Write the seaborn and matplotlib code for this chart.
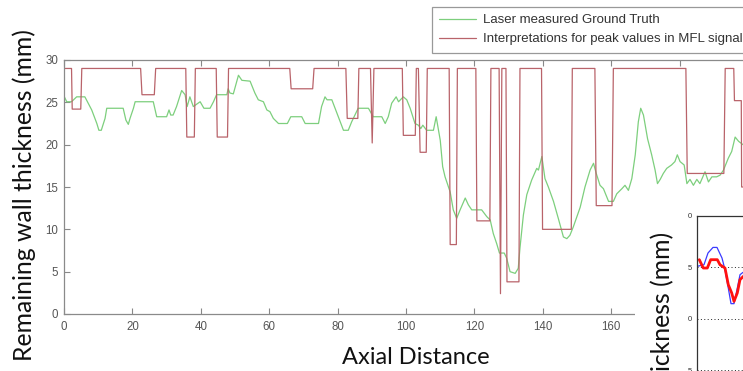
import matplotlib
matplotlib.use("Agg")
import matplotlib.pyplot as plt
import seaborn as sns
import pandas as pd
from matplotlib.patches import Rectangle

# ---------------- data ----------------
gt_x = [0.1, 0.8, 2.2, 3.7, 6.1, 8.1, 9.6, 10.2, 10.9, 12.0, 12.5, 17.3, 18.1, 18.8, 19.3, 20.3, 20.8,
        26.1, 27.1, 30.0, 30.7, 31.2, 31.9, 32.9, 34.4, 35.4, 36.0, 36.8, 37.8, 39.8, 40.9, 42.7, 43.7,
        44.6, 47.6, 48.0, 48.5, 49.5, 51.0, 52.0, 54.4, 55.8, 56.8, 58.3, 59.3, 60.2, 61.2, 62.7, 65.3,
        66.3, 69.5, 70.5, 74.4, 75.3, 76.3, 76.9, 78.3, 80.2, 81.7, 83.1, 84.1, 86.0, 89.0, 90.4, 92.9,
        93.9, 94.8, 95.8, 97.1, 97.8, 99.2, 100.2, 101.2, 102.6, 103.6, 104.3, 104.9, 106.0, 108.0, 108.8,
        109.5, 110.0, 110.7, 111.4, 112.4, 112.9, 113.8, 114.8, 115.8, 117.3, 118.2, 119.2, 122.1, 123.6,
        124.6, 125.5, 126.5, 127.3, 128.7, 129.4, 130.4, 131.9, 132.8, 133.3, 134.3, 135.3, 136.7, 138.2,
        138.7, 139.7, 140.6, 141.6, 143.1, 144.5, 146.0, 147.0, 147.9, 148.9, 150.9, 152.3, 153.8, 154.8,
        155.6, 156.7, 157.7, 159.2, 160.6, 161.6, 163.1, 164.0, 165.0, 166.0, 167.0, 167.9, 168.6, 169.4,
        170.6, 171.8, 172.8, 173.5, 174.3, 175.2, 176.2, 177.6, 178.6, 179.3, 180.1, 181.3, 182.1, 183.0,
        184.0, 185.0, 185.9, 187.4, 188.4, 189.4, 190.8, 191.8, 192.8, 194.2, 195.2, 196.2, 197.2, 198.5]
gt_y = [25.65, 25.07, 25.07, 25.65, 25.65, 24.1, 22.5, 21.7, 21.7, 23.1, 24.3, 24.3, 22.9, 22.4, 23.1, 24.3, 25.07,
        25.07, 23.3, 23.3, 24.1, 23.5, 23.5, 24.5, 26.4, 25.9, 24.5, 25.65, 24.5, 25.07, 24.3, 24.3, 25.07,
        25.9, 25.9, 26.6, 26.1, 26.0, 28.2, 27.6, 27.5, 26.1, 25.3, 25.07, 24.1, 23.9, 23.1, 22.5, 22.5,
        23.3, 23.3, 22.5, 22.5, 24.5, 25.65, 25.3, 25.3, 23.3, 21.7, 21.7, 22.7, 24.3, 24.3, 23.3, 23.3,
        22.5, 23.3, 24.9, 25.65, 25.07, 25.65, 25.3, 24.3, 22.5, 22.3, 21.9, 22.3, 21.7, 21.7, 23.3,
        21.7, 20.5, 17.4, 16.2, 15.0, 14.4, 12.3, 11.3, 12.3, 13.7, 12.9, 12.3, 12.3, 11.5,
        11.1, 9.5, 8.3, 7.2, 7.2, 6.6, 5.0, 4.8, 5.4, 7.8, 11.7, 14.1, 15.8, 17.2,
        17.0, 18.6, 16.0, 15.0, 13.3, 11.3, 9.1, 8.9, 9.3, 10.3, 12.6, 15.0, 17.0, 17.8,
        16.6, 15.2, 14.8, 13.3, 13.3, 14.2, 14.8, 15.2, 14.6, 16.0, 18.8, 22.7, 24.3, 23.5,
        20.7, 18.8, 17.0, 15.4, 15.9, 16.6, 17.2, 17.6, 18.0, 18.8, 18.0, 17.6, 15.4, 15.9,
        15.2, 15.9, 15.4, 16.8, 15.6, 16.2, 16.2, 16.4, 17.0, 18.4, 19.2, 20.9, 20.4, 20.0]

mfl_x = [0, 2.2, 2.4, 4.9, 5.2,
         22.4, 22.8, 26.4, 26.8,
         35.6, 35.9, 38.1, 38.4,
         44.5, 44.8, 47.8, 48.1,
         66.0, 66.4, 72.7, 73.1,
         82.4, 82.8, 85.9, 86.2,
         89.6, 90.1, 90.6,
         98.9, 99.2, 102.7, 103.0, 103.6, 104.1, 105.9, 106.2,
         112.6, 112.9, 114.7, 115.0,
         120.4, 120.7, 124.5, 124.8,
         127.2, 127.6, 128.0, 129.2, 129.5, 133.0, 133.3,
         139.6, 139.9, 148.3, 148.6,
         155.2, 155.6, 160.2, 160.6,
         181.8, 182.2, 192.9, 193.3,
         195.8, 196.0, 198.0, 198.1, 199.0]
mfl_y = [29, 29, 24.2, 24.2, 29,
         29, 25.9, 25.9, 29,
         29, 20.9, 20.9, 29,
         29, 20.9, 20.9, 29,
         29, 26.6, 26.6, 29,
         29, 23.1, 23.1, 29,
         29, 20.2, 29,
         29, 21.1, 21.1, 29, 29, 19.1, 19.1, 29,
         29, 8.2, 8.2, 29,
         29, 11.0, 11.0, 29,
         29, 2.4, 29, 29, 3.8, 3.8, 29,
         29, 10.0, 10.0, 29,
         29, 12.8, 12.8, 29,
         29, 16.6, 16.6, 29,
         29, 25.2, 25.2, 15.0, 15.0]

x_ticks = [0, 20, 40, 60, 80, 100, 120, 140, 160, 180]
x_tick_labels = ["0", "20", "40", "60", "80", "100", "120", "140", "160", ""]
y_ticks = [0, 5, 10, 15, 20, 25, 30]

# inset (partly visible second chart)
ins_blue_x = [0, 7, 11, 16, 20, 25, 28, 31, 34, 37, 40, 43, 46]
ins_blue_y = [5.08, 5.24, 6.38, 6.92, 6.92, 5.89, 4.76, 3.14, 1.46, 1.46, 2.82, 4.27, 4.50]
ins_red_x = [2.3, 6.3, 10.3, 13.7, 20.3, 23, 28, 31.3, 34.7, 37, 40.3, 43, 46.3]
ins_red_y = [5.73, 4.92, 4.92, 5.73, 5.73, 5.24, 4.92, 3.30, 2.50, 1.68, 2.50, 3.79, 4.11]
ins_ticks = [10, 5, 0, -5]
ins_tick_labels = ["0", "5", "0", "5"]

gt_df = pd.DataFrame({"x": gt_x, "y": gt_y})
mfl_df = pd.DataFrame({"x": mfl_x, "y": mfl_y})

# ---------------- style ----------------
sns.set_style("white")
plt.rcParams["font.family"] = ["Liberation Sans", "DejaVu Sans"]

W, H = 743, 371
fig = plt.figure(figsize=(W / 100, H / 100), dpi=100)
fig.patch.set_facecolor("white")


def fx(px):
    return px / W


def fy(py):
    return 1 - py / H


GREEN = "#7dcf7d"
RED = "#b9636a"

ax = fig.add_axes([fx(64), fy(314), 1 - fx(64), fy(60) - fy(314)])
sns.lineplot(data=gt_df, x="x", y="y", ax=ax, color=GREEN, lw=0.9, sort=False,
             estimator=None, label="Laser measured Ground Truth")
sns.lineplot(data=mfl_df, x="x", y="y", ax=ax, color=RED, lw=0.9, sort=False,
             estimator=None, label="Interpretations for peak values in MFL signal")
ax.set_xlim(0, 198.5)
ax.set_ylim(0, 30)
ax.set_xticks(x_ticks)
ax.set_xticklabels(x_tick_labels)
ax.set_yticks(y_ticks)
ax.set_xlabel("")
ax.set_ylabel("")
ax.tick_params(direction="in", length=4, width=0.8, color="#888888", labelcolor="#555555",
               labelsize=8.3, top=True, right=False, bottom=True, left=True)
ax.tick_params(axis="x", pad=5)
ax.tick_params(axis="y", pad=4)
for s in ["left", "bottom", "top"]:
    ax.spines[s].set_color("#8a8a8a")
    ax.spines[s].set_linewidth(0.9)
ax.spines["right"].set_visible(False)

leg = ax.legend(loc="upper left", bbox_to_anchor=(fx(432), fy(7)), bbox_transform=fig.transFigure,
                borderaxespad=0, fontsize=9.5, handlelength=2.8, handletextpad=0.5,
                labelspacing=0.5, borderpad=0.55, fancybox=False, framealpha=1,
                edgecolor="#999999")
leg.get_frame().set_linewidth(0.9)
for t in leg.get_texts():
    t.set_color("#333333")

fig.text(fx(416), fy(358), "Axial Distance", ha="center", va="center",
         family=["Lato", "DejaVu Sans"], fontsize=17, color="#111111")
fig.text(fx(24), fy(195), "Remaining wall thickness (mm)", ha="center", va="center",
         rotation=90, family=["Lato", "DejaVu Sans"], fontsize=17.8, color="#111111")

# white area of the overlapping second picture
fig.patches.append(Rectangle((fx(635), 0), 1 - fx(635), fy(208), transform=fig.transFigure,
                             facecolor="white", edgecolor="none", zorder=5))

ins = fig.add_axes([fx(697), fy(420), (800 - 697) / W, fy(215.7) - fy(420)])
ins.set_zorder(6)
ins.patch.set_alpha(0)
for yv in [5, 0, -5]:
    ins.axhline(yv, color="#222222", lw=0.7, ls=(0, (1, 2.5)), zorder=1)
sns.lineplot(x=ins_blue_x, y=ins_blue_y, ax=ins, color="#3a3aff", lw=0.9, sort=False, estimator=None)
sns.lineplot(x=ins_red_x, y=ins_red_y, ax=ins, color="#ff1010", lw=2.0, sort=False, estimator=None)
ins.set_xlim(0, 103)
ins.set_ylim(10 - (420 - 215.7) / 10.3, 10)
ins.set_xticks([])
ins.set_yticks(ins_ticks)
ins.set_yticklabels(ins_tick_labels)
ins.tick_params(axis="y", direction="out", length=2, width=0.6, color="#333333",
                labelsize=5.5, labelcolor="#333333", pad=1.5)
ins.spines["left"].set_color("#333333")
ins.spines["top"].set_color("#333333")
ins.spines["left"].set_linewidth(0.9)
ins.spines["top"].set_linewidth(0.9)
ins.spines["right"].set_visible(False)
ins.spines["bottom"].set_visible(False)
ins.set_xlabel("")
ins.set_ylabel("")

fig.text(fx(663), 0, "ickness (mm)", ha="center", va="bottom", rotation=90,
         family=["Lato", "DejaVu Sans"], fontsize=17.8, color="#111111", zorder=8)

fig.savefig("out.png", dpi=100)
